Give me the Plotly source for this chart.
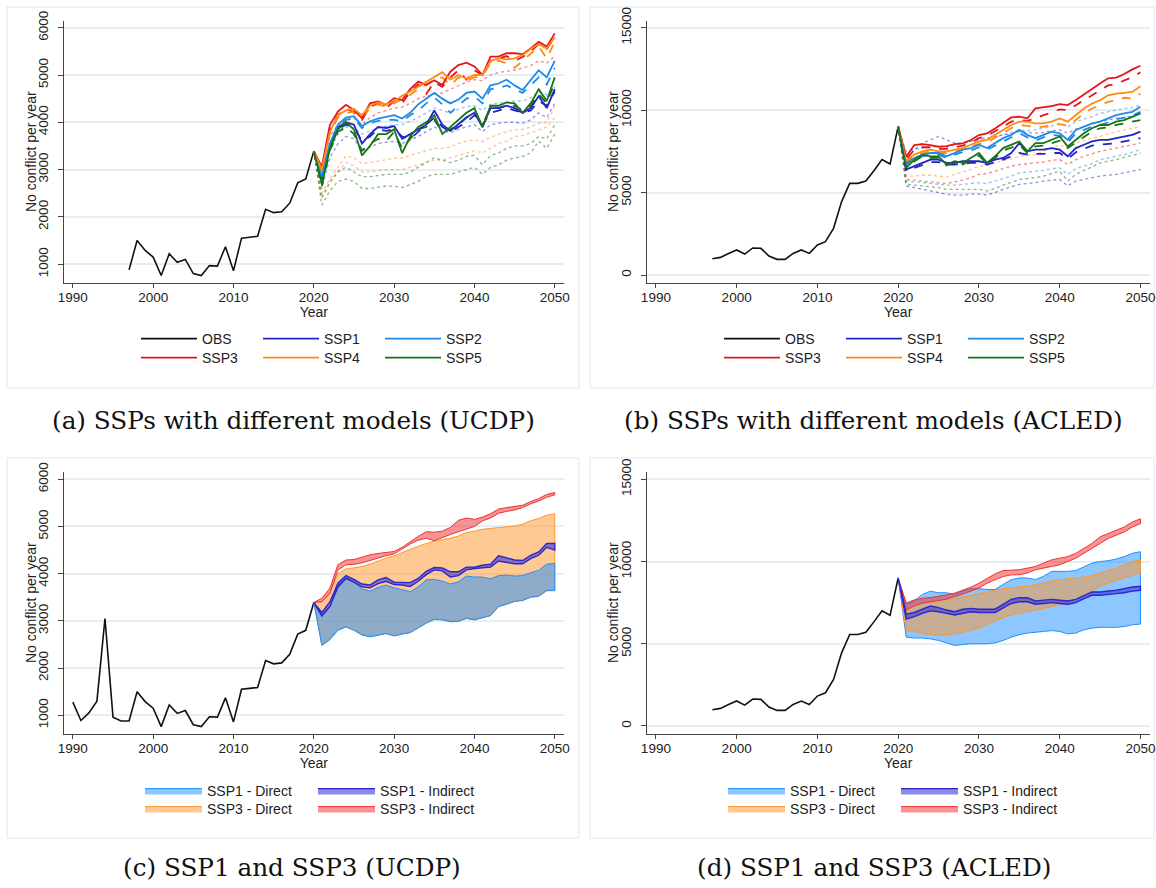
import plotly.graph_objects as go

# ---------------- data ----------------
years_ucdp_obs = list(range(1990, 2021))
ucdp_obs = [1280, 890, 1050, 1300, 3050, 960, 880, 880, 1500, 1290, 1150, 760, 1220, 1040, 1100,
            800, 760, 970, 960, 1370, 860, 1550, 1570, 1590, 2160, 2090, 2110, 2290, 2720, 2800, 3390]
years_acled_obs = list(range(1997, 2021))
acled_obs = [990, 1070, 1310, 1520, 1270, 1640, 1620, 1150, 950, 950, 1310, 1520, 1310, 1820, 2020,
             2830, 4450, 5560, 5560, 5700, 6330, 7010, 6730, 9000]
years_proj = list(range(2020, 2051))

# panel (a) UCDP, SSPs with different models
a_ssp1_solid = [3390, 2800, 3500, 3900, 4000, 3950, 3550, 3750, 3900, 3880, 3920, 3650, 3750, 3850, 3950, 4250, 3950, 3820, 3950, 4100, 4200, 3900, 4300, 4300, 4350, 4300, 4200, 4300, 4550, 4300, 4700]
a_ssp1_dash = [3390, 2750, 3450, 3850, 3950, 3900, 3600, 3700, 3850, 3820, 3850, 3700, 3650, 3800, 3950, 4100, 3900, 3800, 3900, 4000, 4150, 3950, 4200, 4250, 4300, 4250, 4200, 4250, 4450, 4350, 4650]
a_ssp1_dot = [3390, 2600, 3250, 3550, 3700, 3650, 3400, 3480, 3550, 3580, 3600, 3550, 3620, 3700, 3800, 3900, 3820, 3780, 3850, 3900, 3950, 3800, 3950, 3980, 4000, 4000, 3980, 4050, 4200, 4100, 4400]
a_ssp2_solid = [3390, 2850, 3550, 3950, 4100, 4130, 3920, 4020, 4080, 4120, 4150, 4080, 4200, 4380, 4500, 4620, 4500, 4400, 4480, 4620, 4650, 4500, 4780, 4820, 4900, 4780, 4680, 4880, 5100, 4950, 5300]
a_ssp2_dash = [3390, 2800, 3500, 3900, 4050, 4080, 3880, 3980, 4030, 4050, 4050, 4020, 4150, 4250, 4400, 4520, 4380, 4200, 4350, 4500, 4550, 4400, 4700, 4720, 4780, 4700, 4620, 4780, 4950, 4800, 5150]
a_ssp2_dot = [3390, 2700, 3400, 3750, 3900, 3880, 3750, 3820, 3880, 3920, 3950, 3950, 4020, 4100, 4200, 4300, 4250, 4200, 4280, 4330, 4350, 4250, 4380, 4400, 4430, 4450, 4450, 4520, 4650, 4580, 4750]
a_ssp3_solid = [3390, 3060, 3940, 4225, 4370, 4260, 4085, 4400, 4440, 4370, 4510, 4470, 4700, 4860, 4790, 4890, 4790, 5070, 5210, 5260, 5180, 5000, 5390, 5390, 5460, 5460, 5440, 5560, 5700, 5600, 5880]
a_ssp3_dash = [3390, 3000, 3850, 4150, 4300, 4200, 4050, 4330, 4400, 4300, 4450, 4400, 4650, 4800, 4600, 4850, 4750, 4950, 5100, 4900, 5100, 5000, 5300, 5350, 5400, 5300, 5380, 5500, 5650, 5550, 5800]
a_ssp3_dot = [3390, 2900, 3700, 3950, 4100, 4080, 3950, 4100, 4200, 4250, 4300, 4320, 4400, 4500, 4550, 4600, 4620, 4700, 4780, 4850, 4900, 4880, 5000, 5050, 5080, 5100, 5150, 5200, 5300, 5250, 5400]
a_ssp4_solid = [3390, 3000, 3800, 4150, 4250, 4280, 4150, 4350, 4420, 4380, 4440, 4560, 4650, 4750, 4850, 4960, 5060, 4900, 5000, 4920, 5000, 5000, 5300, 5350, 5330, 5350, 5420, 5550, 5650, 5560, 5800]
a_ssp4_dash = [3390, 2950, 3750, 4100, 4200, 4220, 4100, 4300, 4380, 4330, 4400, 4500, 4580, 4700, 4800, 4900, 4950, 4780, 4950, 4880, 4950, 4980, 5250, 5300, 5250, 5150, 5300, 5450, 5600, 5350, 5700]
a_ssp4_dot1 = [3390, 2500, 2800, 3050, 3290, 3250, 3130, 3150, 3180, 3220, 3240, 3250, 3300, 3350, 3400, 3450, 3450, 3480, 3550, 3600, 3630, 3590, 3680, 3750, 3800, 3840, 3850, 3900, 3980, 4000, 4330]
a_ssp4_dot2 = [3390, 2400, 2700, 2950, 3150, 3080, 2950, 2950, 2980, 3000, 3000, 3000, 3050, 3100, 3150, 3200, 3200, 3250, 3300, 3350, 3400, 3350, 3450, 3550, 3600, 3700, 3720, 3780, 3850, 3900, 4100]
a_ssp5_solid = [3390, 2700, 3450, 3850, 4000, 3850, 3300, 3500, 3750, 3750, 3850, 3350, 3700, 3900, 4000, 4150, 3750, 3900, 4050, 4200, 4300, 3900, 4350, 4350, 4420, 4400, 4200, 4400, 4700, 4450, 4950]
a_ssp5_dash = [3390, 2650, 3400, 3800, 3900, 3750, 3400, 3550, 3650, 3600, 3800, 3450, 3650, 3850, 3900, 4050, 3800, 3850, 3950, 4100, 4200, 3950, 4300, 4300, 4350, 4350, 4250, 4350, 4600, 4400, 4850]
a_ssp5_dot1 = [3390, 2400, 2750, 2950, 3050, 2950, 2850, 2850, 2880, 2900, 2900, 2900, 2950, 3050, 3150, 3250, 3200, 3150, 3200, 3280, 3300, 3100, 3300, 3350, 3450, 3500, 3500, 3550, 3700, 3650, 3950]
a_ssp5_dot2 = [3390, 2250, 2550, 2750, 2800, 2750, 2600, 2600, 2630, 2650, 2650, 2620, 2680, 2750, 2850, 2900, 2900, 2900, 2950, 3000, 3050, 2900, 3050, 3100, 3200, 3250, 3280, 3350, 3600, 3450, 3750]

# panel (b) ACLED, SSPs with different models
b_ssp1_solid = [9000, 6400, 6600, 6800, 7000, 7000, 6800, 6800, 6900, 6900, 6900, 6800, 7000, 7100, 7400, 8000, 7500, 7600, 7600, 7700, 7600, 7200, 7700, 7900, 8100, 8200, 8200, 8300, 8400, 8500, 8700]
b_ssp1_dash = [9000, 6300, 6500, 6700, 6850, 6850, 6700, 6700, 6750, 6800, 6800, 6700, 6850, 7000, 7200, 7400, 7300, 7350, 7350, 7400, 7400, 7050, 7450, 7650, 7850, 7900, 7950, 8000, 8100, 8200, 8300]
b_ssp1_dot1 = [9000, 5400, 5300, 5200, 5100, 5000, 4900, 4850, 4850, 4900, 4900, 4850, 5000, 5200, 5350, 5500, 5550, 5600, 5700, 5750, 5800, 5400, 5700, 5800, 5900, 6000, 6050, 6100, 6200, 6300, 6400]
b_ssp1_dot2 = [9000, 7000, 7600, 8000, 8200, 8400, 8200, 8000, 8000, 8100, 8300, 8300, 8400, 8500, 8550, 8700, 8650, 8600, 8650, 8750, 8800, 8600, 8850, 9000, 9150, 9300, 9400, 9500, 9550, 9650, 9800]
b_ssp2_solid = [9000, 6800, 7100, 7300, 7400, 7400, 7200, 7400, 7600, 7700, 7900, 7700, 8000, 8300, 8500, 8800, 8500, 8300, 8500, 8700, 8600, 8200, 8800, 9000, 9200, 9300, 9500, 9700, 9800, 9900, 10200]
b_ssp2_dash = [9000, 6700, 7000, 7200, 7300, 7300, 7100, 7300, 7450, 7550, 7750, 7600, 7850, 8100, 8300, 8600, 8350, 8150, 8350, 8500, 8450, 8050, 8600, 8800, 9000, 9100, 9250, 9450, 9550, 9650, 9900]
b_ssp2_dot1 = [9000, 7500, 7600, 7700, 7750, 7800, 7750, 7850, 8000, 8100, 8200, 8200, 8350, 8500, 8650, 8800, 8750, 8800, 8900, 9050, 9200, 9000, 9300, 9450, 9600, 9800, 9900, 10000, 10100, 10150, 10300]
b_ssp2_dot2 = [9000, 5700, 5650, 5600, 5550, 5500, 5450, 5450, 5500, 5550, 5600, 5550, 5700, 5850, 6000, 6200, 6250, 6300, 6350, 6450, 6500, 6100, 6450, 6600, 6750, 7000, 7100, 7200, 7300, 7450, 7600]
b_ssp3_solid = [9000, 7180, 7880, 7940, 7880, 7780, 7820, 7940, 7980, 8190, 8490, 8590, 8890, 9200, 9560, 9600, 9500, 10110, 10170, 10250, 10370, 10310, 10610, 10960, 11320, 11620, 11930, 11970, 12190, 12470, 12690]
b_ssp3_dash = [9000, 7000, 7600, 7750, 7750, 7650, 7650, 7750, 7850, 8000, 8300, 8450, 8700, 9000, 9300, 9400, 9350, 9500, 9700, 9850, 10050, 10000, 10300, 10600, 10950, 11200, 11500, 11600, 11800, 12000, 12300]
b_ssp3_dot = [9000, 5800, 5750, 5700, 5650, 5600, 5550, 5650, 5750, 5900, 6100, 6150, 6300, 6450, 6600, 6700, 6750, 6800, 6850, 6950, 7000, 6700, 7000, 7200, 7350, 7500, 7600, 7700, 7800, 7900, 8000]
b_ssp4_solid = [9000, 6900, 7300, 7500, 7600, 7500, 7500, 7600, 7700, 7900, 8100, 8200, 8500, 8800, 9100, 9300, 9300, 9200, 9200, 9300, 9500, 9300, 9700, 10100, 10400, 10600, 10900, 11000, 11050, 11100, 11450]
b_ssp4_dash = [9000, 6800, 7200, 7400, 7500, 7400, 7400, 7500, 7600, 7800, 7950, 8050, 8300, 8600, 8900, 9100, 9050, 8950, 9000, 9100, 9150, 9050, 9400, 9800, 10100, 10300, 10500, 10600, 10750, 10700, 11000]
b_ssp4_dot = [9000, 6000, 6000, 6050, 6050, 6000, 5950, 6100, 6250, 6400, 6600, 6650, 6800, 6950, 7050, 7200, 7250, 7300, 7500, 7700, 7900, 7700, 8000, 8150, 8300, 8400, 8550, 8700, 8800, 8900, 9000]
b_ssp5_solid = [9000, 6500, 7000, 7300, 7200, 7200, 6700, 6900, 6800, 7100, 7400, 6800, 7200, 7700, 7900, 8100, 7500, 8000, 8000, 8200, 8400, 7800, 8200, 8600, 8900, 9100, 9100, 9300, 9400, 9600, 9800]
b_ssp5_dash = [9000, 6400, 6900, 7200, 7100, 7100, 6650, 6850, 6700, 7000, 7250, 6750, 7100, 7550, 7750, 7900, 7400, 7800, 7850, 8000, 8150, 7700, 8050, 8400, 8700, 8900, 8950, 9100, 9200, 9300, 9400]
b_ssp5_dot = [9000, 5500, 5450, 5400, 5350, 5300, 5200, 5200, 5200, 5200, 5200, 5100, 5250, 5450, 5650, 5800, 5850, 5900, 6000, 6150, 6300, 5700, 6100, 6350, 6550, 6800, 6900, 7000, 7150, 7250, 7400]

# panel (c) UCDP bands (upper / lower)
c_ssp1_dir_up = [3390, 3150, 3300, 3750, 3920, 3820, 3680, 3630, 3710, 3760, 3700, 3660, 3620, 3720, 3870, 3880, 3840, 3780, 3830, 3950, 3930, 3930, 3890, 3960, 3970, 3950, 3960, 4020, 4070, 4200, 4220]
c_ssp1_dir_lo = [3390, 2480, 2600, 2800, 2870, 2800, 2700, 2660, 2700, 2730, 2680, 2720, 2750, 2850, 2950, 3030, 3020, 2980, 2990, 3050, 3020, 3070, 3110, 3300, 3350, 3410, 3430, 3500, 3520, 3640, 3640]
c_ssp1_ind_up = [3390, 3180, 3400, 3800, 3960, 3880, 3780, 3760, 3870, 3920, 3820, 3810, 3810, 3900, 4050, 4130, 4120, 4040, 4040, 4140, 4140, 4180, 4200, 4380, 4330, 4290, 4280, 4390, 4460, 4640, 4640]
c_ssp1_ind_lo = [3390, 3100, 3300, 3720, 3900, 3820, 3720, 3700, 3790, 3840, 3770, 3760, 3730, 3840, 3980, 4080, 4060, 3930, 3960, 4080, 4110, 4130, 4140, 4270, 4240, 4210, 4210, 4320, 4390, 4560, 4500]
c_ssp3_dir_up = [3390, 3400, 3600, 4000, 4100, 4130, 4150, 4200, 4270, 4330, 4380, 4450, 4520, 4580, 4640, 4690, 4720, 4750, 4800, 4870, 4900, 4940, 4960, 4980, 5000, 5010, 5050, 5120, 5170, 5240, 5270]
c_ssp3_dir_lo = [3390, 2500, 2620, 2820, 2880, 2810, 2710, 2670, 2710, 2740, 2690, 2730, 2760, 2860, 2960, 3040, 3030, 2990, 3000, 3060, 3030, 3080, 3120, 3310, 3360, 3420, 3440, 3510, 3530, 3650, 3650]
c_ssp3_ind_up = [3390, 3480, 3690, 4190, 4290, 4300, 4350, 4400, 4430, 4450, 4470, 4560, 4680, 4790, 4890, 4880, 4900, 4980, 5130, 5180, 5150, 5200, 5270, 5370, 5400, 5420, 5450, 5530, 5590, 5680, 5720]
c_ssp3_ind_lo = [3390, 3410, 3580, 4080, 4190, 4200, 4230, 4290, 4330, 4380, 4420, 4520, 4630, 4710, 4750, 4700, 4760, 4830, 4890, 4950, 5000, 5120, 5180, 5280, 5320, 5350, 5400, 5480, 5540, 5620, 5670]

# panel (d) ACLED bands (upper / lower)
d_ssp1_dir_up = [9000, 7400, 7600, 8000, 8200, 8100, 8100, 8000, 8200, 8350, 8350, 8300, 8300, 8600, 8900, 9000, 9000, 8900, 9100, 9400, 9400, 9400, 9450, 9700, 9900, 10000, 10050, 10150, 10300, 10500, 10600]
d_ssp1_dir_lo = [9000, 5400, 5350, 5350, 5300, 5200, 5050, 4900, 4950, 5000, 5000, 5000, 5050, 5200, 5400, 5550, 5650, 5700, 5750, 5800, 5750, 5600, 5650, 5850, 5950, 6000, 6000, 6000, 6050, 6150, 6200]
d_ssp1_ind_up = [9000, 6800, 6900, 7100, 7300, 7200, 7050, 6950, 7100, 7150, 7100, 7100, 7100, 7400, 7700, 7800, 7800, 7600, 7650, 7700, 7650, 7600, 7700, 7950, 8150, 8150, 8200, 8250, 8350, 8450, 8500]
d_ssp1_ind_lo = [9000, 6500, 6650, 6850, 7000, 6950, 6850, 6750, 6850, 6950, 6900, 6900, 6900, 7150, 7450, 7550, 7550, 7400, 7450, 7500, 7450, 7400, 7500, 7750, 7950, 7950, 8000, 8050, 8100, 8200, 8250]
d_ssp3_dir_up = [9000, 7000, 7300, 7450, 7500, 7550, 7650, 7750, 7850, 7950, 8050, 8150, 8250, 8350, 8400, 8450, 8500, 8600, 8700, 8800, 8900, 8950, 9000, 9050, 9150, 9300, 9450, 9600, 9800, 10000, 10100]
d_ssp3_dir_lo = [9000, 5800, 5750, 5650, 5550, 5500, 5550, 5600, 5700, 5800, 5950, 6150, 6400, 6600, 6750, 6850, 6950, 7050, 7150, 7250, 7400, 7550, 7700, 7950, 8250, 8500, 8700, 8850, 9000, 9150, 9300]
d_ssp3_ind_up = [9000, 7470, 7670, 7770, 7810, 7870, 7970, 8080, 8240, 8440, 8680, 8990, 9250, 9450, 9490, 9500, 9600, 9700, 9900, 10100, 10200, 10300, 10500, 10800, 11100, 11500, 11700, 11900, 12100, 12400, 12600]
d_ssp3_ind_lo = [9000, 7060, 7310, 7470, 7570, 7630, 7710, 7870, 8020, 8180, 8380, 8680, 8890, 9090, 9190, 9200, 9300, 9500, 9600, 9700, 9800, 10000, 10200, 10500, 10800, 11100, 11400, 11600, 11800, 12100, 12300]

x_ticks = [1990, 2000, 2010, 2020, 2030, 2040, 2050]
ucdp_ticks = [1000, 2000, 3000, 4000, 5000, 6000]
acled_ticks = [0, 5000, 10000, 15000]
y_title = "No conflict per year"
captions = ["(a) SSPs with different models (UCDP)", "(b) SSPs with different models (ACLED)",
            "(c) SSP1 and SSP3 (UCDP)", "(d) SSP1 and SSP3 (ACLED)"]

# ---------------- style ----------------
W, H = 1156, 886
COL = {"SSP1": "#2424c4", "SSP2": "#1e8ae8", "SSP3": "#e8141c", "SSP4": "#ff8a14", "SSP5": "#167516"}
SANS = "Liberation Sans"

fig = go.Figure()


def line(x, y, color, dash, width, opacity, ax, name, show=False, legend="legend"):
    fig.add_trace(go.Scatter(
        x=x, y=y, mode="lines", name=name, showlegend=show, legend=legend,
        line=dict(color=color, dash=dash, width=width), opacity=opacity,
        xaxis="x" + ax, yaxis="y" + ax, hoverinfo="skip"))


def band(up, lo, fill, edge, ew, ax, name, legend):
    fig.add_trace(go.Scatter(
        x=years_proj + years_proj[::-1], y=up + lo[::-1], mode="lines", fill="toself",
        fillcolor=fill, line=dict(color=edge, width=ew), name=name,
        showlegend=True, legend=legend, xaxis="x" + ax, yaxis="y" + ax, hoverinfo="skip"))


# ---- panel (a)
ax = ""
line(years_ucdp_obs[7:], ucdp_obs[7:], "#111111", "solid", 1.6, 1, ax, "OBS", True, "legend")
for key, ys in [("SSP1", [a_ssp1_dot]), ("SSP2", [a_ssp2_dot]), ("SSP3", [a_ssp3_dot]),
                ("SSP4", [a_ssp4_dot1, a_ssp4_dot2]), ("SSP5", [a_ssp5_dot1, a_ssp5_dot2])]:
    for y in ys:
        line(years_proj, y, COL[key], "dot", 1.3, 0.5, ax, key)
for key, y in [("SSP1", a_ssp1_dash), ("SSP2", a_ssp2_dash), ("SSP3", a_ssp3_dash),
               ("SSP4", a_ssp4_dash), ("SSP5", a_ssp5_dash)]:
    line(years_proj, y, COL[key], "dash", 1.8, 1, ax, key)
for key, y, lg in [("SSP1", a_ssp1_solid, "legend"), ("SSP2", a_ssp2_solid, "legend"),
                   ("SSP3", a_ssp3_solid, "legend2"), ("SSP4", a_ssp4_solid, "legend2"),
                   ("SSP5", a_ssp5_solid, "legend2")]:
    line(years_proj, y, COL[key], "solid", 1.8, 1, ax, key, True, lg)

# ---- panel (b)
ax = "2"
line(years_acled_obs, acled_obs, "#111111", "solid", 1.6, 1, ax, "OBS", True, "legend3")
for key, ys in [("SSP1", [b_ssp1_dot1, b_ssp1_dot2]), ("SSP2", [b_ssp2_dot1, b_ssp2_dot2]),
                ("SSP3", [b_ssp3_dot]), ("SSP4", [b_ssp4_dot]), ("SSP5", [b_ssp5_dot])]:
    for y in ys:
        line(years_proj, y, COL[key], "dot", 1.3, 0.5, ax, key)
for key, y in [("SSP1", b_ssp1_dash), ("SSP2", b_ssp2_dash), ("SSP3", b_ssp3_dash),
               ("SSP4", b_ssp4_dash), ("SSP5", b_ssp5_dash)]:
    line(years_proj, y, COL[key], "dash", 1.8, 1, ax, key)
for key, y, lg in [("SSP1", b_ssp1_solid, "legend3"), ("SSP2", b_ssp2_solid, "legend3"),
                   ("SSP3", b_ssp3_solid, "legend4"), ("SSP4", b_ssp4_solid, "legend4"),
                   ("SSP5", b_ssp5_solid, "legend4")]:
    line(years_proj, y, COL[key], "solid", 1.8, 1, ax, key, True, lg)

# band colours
F_BLUE, E_BLUE = "rgba(30,144,255,0.5)", "rgb(30,144,255)"
F_ORNG, E_ORNG = "rgba(255,148,40,0.5)", "rgb(255,150,40)"
F_RED, E_RED = "rgba(240,40,40,0.5)", "rgb(240,50,50)"
F_PURP, E_PURP = "rgba(50,40,210,0.55)", "rgb(40,40,205)"

# ---- panel (c)
ax = "3"
line(years_ucdp_obs, ucdp_obs, "#111111", "solid", 1.6, 1, ax, "OBS")
band(c_ssp3_dir_up, c_ssp3_dir_lo, F_ORNG, E_ORNG, 1, ax, "SSP3 - Direct", "legend6")
band(c_ssp1_dir_up, c_ssp1_dir_lo, F_BLUE, E_BLUE, 1, ax, "SSP1 - Direct", "legend5")
band(c_ssp3_ind_up, c_ssp3_ind_lo, F_RED, E_RED, 1, ax, "SSP3 - Indirect", "legend6")
band(c_ssp1_ind_up, c_ssp1_ind_lo, F_PURP, E_PURP, 1.4, ax, "SSP1 - Indirect", "legend5")

# ---- panel (d)
ax = "4"
line(years_acled_obs, acled_obs, "#111111", "solid", 1.6, 1, ax, "OBS")
band(d_ssp1_dir_up, d_ssp1_dir_lo, F_BLUE, E_BLUE, 1, ax, "SSP1 - Direct", "legend7")
band(d_ssp3_dir_up, d_ssp3_dir_lo, F_ORNG, E_ORNG, 1, ax, "SSP3 - Direct", "legend8")
band(d_ssp3_ind_up, d_ssp3_ind_lo, F_RED, E_RED, 1, ax, "SSP3 - Indirect", "legend8")
band(d_ssp1_ind_up, d_ssp1_ind_lo, F_PURP, E_PURP, 1.4, ax, "SSP1 - Indirect", "legend7")

# ---------------- axes ----------------
def px_x(a, b):
    return [a / W, b / W]


def px_y(top, bottom):
    return [1 - bottom / H, 1 - top / H]


tickfont = dict(family=SANS, size=13.5, color="#222")
titlefont = dict(family=SANS, size=14, color="#222")


def xaxis(dom, anchor):
    return dict(domain=dom, anchor=anchor, range=[1988.85, 2051.15], tickvals=x_ticks,
                ticks="outside", ticklen=4, tickcolor="#444", showline=True, linecolor="#444",
                linewidth=1, showgrid=False, zeroline=False, tickfont=tickfont,
                ticklabelstandoff=-3, automargin=False,
                title=dict(text="Year", font=titlefont, standoff=0))


def yaxis(dom, anchor, rng, tv):
    return dict(domain=dom, anchor=anchor, range=rng, tickvals=tv,
                ticktext=[str(v) for v in tv], tickangle=-90,
                ticks="outside", ticklen=5, tickcolor="#444", showline=True, linecolor="#444",
                linewidth=1, showgrid=True, gridcolor="#e6eef2", gridwidth=1.5, zeroline=False,
                tickfont=tickfont, ticklabelstandoff=4, automargin=False)


fig.update_layout(
    xaxis=xaxis(px_x(63.6, 564), "y"),
    yaxis=yaxis(px_y(20.7, 283.3), "x", [596, 6148], ucdp_ticks),
    xaxis2=xaxis(px_x(646.6, 1149.7), "y2"),
    yaxis2=yaxis(px_y(20.7, 283.3), "x2", [-503, 15425], acled_ticks),
    xaxis3=xaxis(px_x(63.6, 564), "y3"),
    yaxis3=yaxis(px_y(471.7, 734.3), "x3", [597, 6161], ucdp_ticks),
    xaxis4=xaxis(px_x(646.6, 1149.7), "y4"),
    yaxis4=yaxis(px_y(471.7, 734.3), "x4", [-505, 15462], acled_ticks),
)

# ---------------- legends ----------------
def leg(xpx, ypx, ew, iw):
    return dict(orientation="h", x=xpx / W, y=1 - ypx / H, xanchor="left", yanchor="middle",
                bgcolor="rgba(0,0,0,0)", font=dict(family=SANS, size=14, color="#222"),
                entrywidth=ew, entrywidthmode="pixels", itemwidth=iw, tracegroupgap=0,
                itemclick=False)


fig.update_layout(
    legend=leg(136, 339, 51, 56), legend2=leg(136, 358, 51, 56),
    legend3=leg(719, 339, 51, 56), legend4=leg(719, 358, 51, 56),
    legend5=leg(140, 791, 101, 57), legend6=leg(140, 809, 101, 57),
    legend7=leg(723, 791, 101, 57), legend8=leg(723, 809, 101, 57),
)

# ---------------- frames, axis titles & captions ----------------
shapes = []
for (x0, y0, x1, y1) in [(7, 7, 579, 388), (590, 7, 1154, 388), (7, 458, 579, 838), (590, 458, 1154, 838)]:
    shapes.append(dict(type="rect", xref="paper", yref="paper", x0=x0 / W, x1=x1 / W,
                       y0=1 - y1 / H, y1=1 - y0 / H, line=dict(color="#dde8ec", width=1),
                       fillcolor="rgba(0,0,0,0)", layer="below"))
annotations = []
for cx, cy in [(31, 152), (613, 152), (31, 603), (613, 603)]:
    annotations.append(dict(text=y_title, x=cx / W, y=1 - cy / H, xref="paper", yref="paper",
                            showarrow=False, xanchor="center", yanchor="middle", textangle=-90,
                            font=titlefont))
for txt, cx, cy in zip(captions, [293, 873, 292, 874], [420, 420, 867, 867]):
    annotations.append(dict(text=txt, x=cx / W, y=1 - cy / H, xref="paper", yref="paper",
                            showarrow=False, xanchor="center", yanchor="middle",
                            font=dict(family="DejaVu Serif", size=24.7, color="#111")))

fig.update_layout(width=W, height=H, margin=dict(l=0, r=0, t=0, b=0, autoexpand=False),
                  paper_bgcolor="white", plot_bgcolor="white", shapes=shapes,
                  annotations=annotations)

fig.write_html("out.html", config={"displayModeBar": False},
               post_script="document.body.style.margin='0px';document.body.style.overflow='hidden';")
